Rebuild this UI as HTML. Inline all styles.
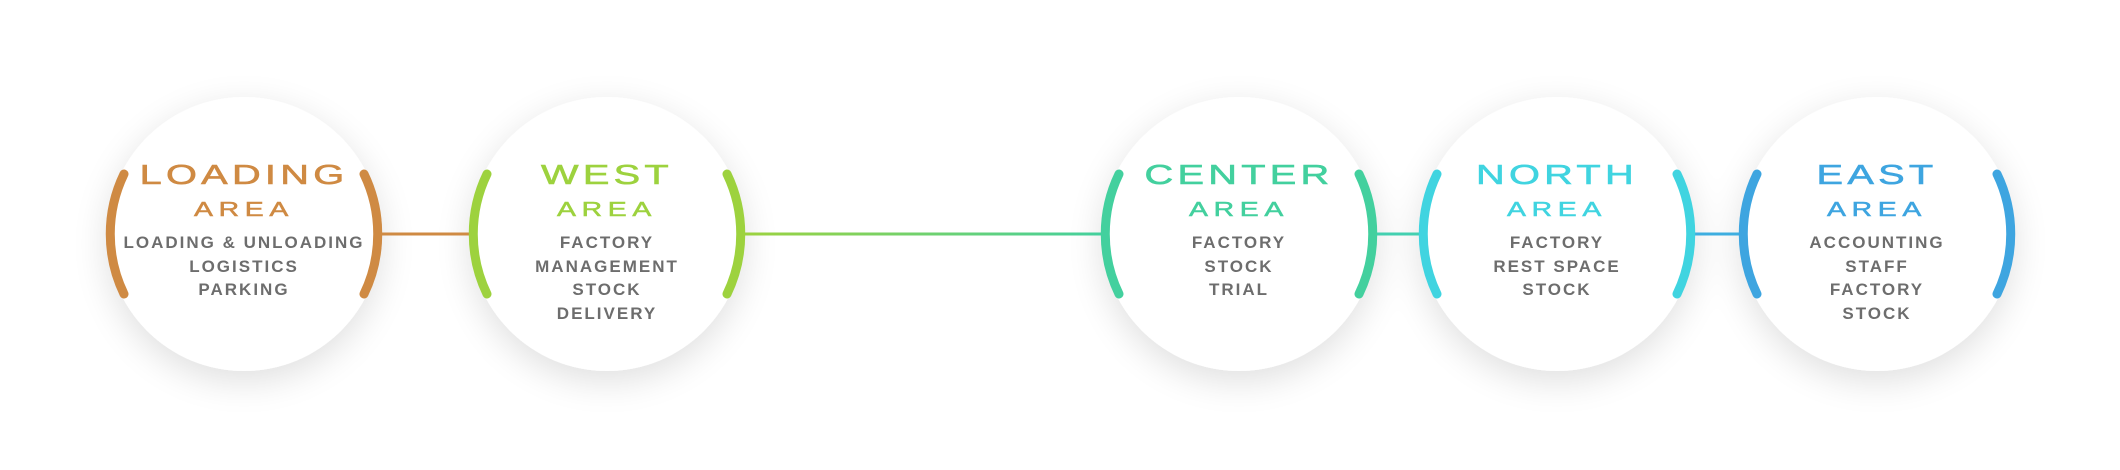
<!DOCTYPE html>
<html><head><meta charset="utf-8"><style>
html,body{margin:0;padding:0;background:#fff;}
body{width:2120px;height:470px;position:relative;overflow:hidden;font-family:"Liberation Sans",sans-serif;}
svg{position:absolute;left:0;top:0;}
.node{position:absolute;width:300px;text-align:center;}
.t{position:absolute;left:0;width:300px;text-align:center;white-space:nowrap;}
.t1{top:160px;font-size:28px;line-height:30px;letter-spacing:3px;transform:scaleX(1.42);-webkit-text-stroke:0.6px currentColor;}
.t2{top:199px;font-size:20px;line-height:22px;letter-spacing:4px;transform:scaleX(1.42);-webkit-text-stroke:0.5px currentColor;}
.b{top:231px;font-size:17px;font-weight:bold;line-height:23.5px;letter-spacing:2px;color:#6d6d6d;}
</style></head><body>
<svg width="2120" height="470" viewBox="0 0 2120 470">
<defs>
<filter id="sh" x="-50%" y="-50%" width="200%" height="200%">
<feGaussianBlur in="SourceAlpha" stdDeviation="18"/>
<feOffset dy="10"/>
<feComponentTransfer><feFuncA type="linear" slope="0.13"/></feComponentTransfer>
<feMerge><feMergeNode/><feMergeNode in="SourceGraphic"/></feMerge>
</filter>
<linearGradient id="g1" gradientUnits="userSpaceOnUse" x1="743" y1="0" x2="1103" y2="0"><stop offset="0" stop-color="#9dd23e"/><stop offset="1" stop-color="#43d09e"/></linearGradient>
</defs>
<g fill="#fff" filter="url(#sh)">
<circle cx="244" cy="234" r="137"/>
<circle cx="607" cy="234" r="137"/>
<circle cx="1239" cy="234" r="137"/>
<circle cx="1557" cy="234" r="137"/>
<circle cx="1877" cy="234" r="137"/>
</g>
<g stroke-width="3">
<line x1="380" y1="234" x2="472" y2="234" stroke="#cf8a43"/>
<rect x="743" y="232.5" width="360" height="3" fill="url(#g1)" stroke="none"/>
<line x1="1375" y1="234" x2="1421" y2="234" stroke="#43d0b0"/>
<line x1="1693" y1="234" x2="1742" y2="234" stroke="#3eaee0"/>
</g>
<g fill="none" stroke-width="9" stroke-linecap="round">
<path d="M124 174 A138 138 0 0 0 124 294 M364 174 A138 138 0 0 1 364 294" stroke="#cf8a43"/>
<path d="M487 174 A138 138 0 0 0 487 294 M727 174 A138 138 0 0 1 727 294" stroke="#9dd23e"/>
<path d="M1119 174 A138 138 0 0 0 1119 294 M1359 174 A138 138 0 0 1 1359 294" stroke="#43d09e"/>
<path d="M1437 174 A138 138 0 0 0 1437 294 M1677 174 A138 138 0 0 1 1677 294" stroke="#40d4e0"/>
<path d="M1757 174 A138 138 0 0 0 1757 294 M1997 174 A138 138 0 0 1 1997 294" stroke="#3ea5e0"/>
</g>
</svg>

<div class="node" style="left:94px;color:#cf8a43">
<div class="t t1">LOADING</div><div class="t t2">AREA</div>
<div class="t b">LOADING &amp; UNLOADING<br>LOGISTICS<br>PARKING</div></div>

<div class="node" style="left:457px;color:#9dd23e">
<div class="t t1">WEST</div><div class="t t2">AREA</div>
<div class="t b">FACTORY<br>MANAGEMENT<br>STOCK<br>DELIVERY</div></div>

<div class="node" style="left:1089px;color:#43d09e">
<div class="t t1">CENTER</div><div class="t t2">AREA</div>
<div class="t b">FACTORY<br>STOCK<br>TRIAL</div></div>

<div class="node" style="left:1407px;color:#40d4e0">
<div class="t t1">NORTH</div><div class="t t2">AREA</div>
<div class="t b">FACTORY<br>REST SPACE<br>STOCK</div></div>

<div class="node" style="left:1727px;color:#3ea5e0">
<div class="t t1">EAST</div><div class="t t2">AREA</div>
<div class="t b">ACCOUNTING<br>STAFF<br>FACTORY<br>STOCK</div></div>
</body></html>
